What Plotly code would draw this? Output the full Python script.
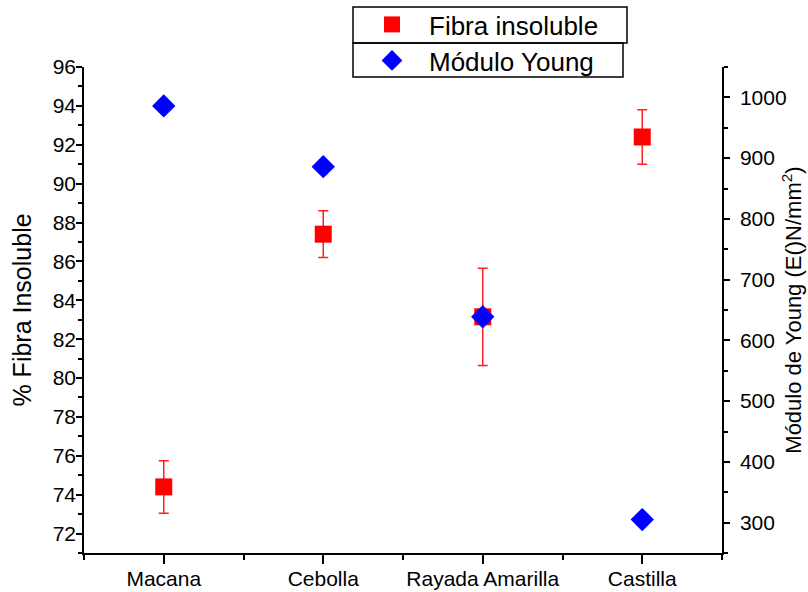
import plotly.graph_objects as go

# Variedades
categorias = ["Macana", "Cebolla", "Rayada Amarilla", "Castilla"]

# % fibra insoluble y su desviación
fibra = [74.4, 87.4, 83.15, 92.4]
fibra_err = [1.35, 1.2, 2.5, 1.4]

# Módulo de Young (N/mm2)
young = [986, 886, 639, 305]

x_pos = list(range(1, len(categorias) + 1))

FONT = "Arial, Liberation Sans, sans-serif"

fig = go.Figure()

fig.add_trace(go.Scatter(
    x=x_pos, y=fibra, name="Fibra insoluble", mode="markers",
    marker=dict(symbol="square", size=17, color="#ff0000",
                line=dict(width=0)),
    error_y=dict(type="data", array=fibra_err, visible=True,
                 color="#ff2020", thickness=1.5, width=5),
    legend="legend",
))

fig.add_trace(go.Scatter(
    x=x_pos, y=young, name="Módulo Young", mode="markers", yaxis="y2",
    marker=dict(symbol="diamond", size=18, color="#0000ff",
                line=dict(width=0)),
    legend="legend2",
))

axis_common = dict(
    showline=True, linecolor="black", linewidth=1.5,
    ticks="outside", tickcolor="black", tickwidth=1.5,
    showgrid=False, zeroline=False, automargin=False,
    tickfont=dict(family=FONT, size=21, color="black"),
)

fig.update_layout(
    width=808, height=592,
    margin=dict(l=84, r=86, t=67, b=39, autoexpand=False),
    paper_bgcolor="white", plot_bgcolor="white",
    showlegend=True,
    xaxis=dict(
        range=[0.5, 4.5], tickmode="array", tickvals=x_pos, ticktext=categorias,
        ticklen=9, ticklabelstandoff=-3,
        minor=dict(tickmode="linear", tick0=0.5, dtick=1, ticklen=5,
                   tickcolor="black", tickwidth=1.5, ticks="outside"),
        **axis_common,
    ),
    yaxis=dict(
        range=[71, 96], tick0=0, dtick=2, ticklen=6, ticklabelstandoff=-4,
        minor=dict(tick0=0, dtick=1, ticklen=4, tickcolor="black",
                   tickwidth=1.5, ticks="outside"),
        title=dict(text="% Fibra Insoluble",
                   font=dict(family=FONT, size=25, color="black"), standoff=14),
        **axis_common,
    ),
    yaxis2=dict(
        overlaying="y", side="right", anchor="x",
        range=[250, 1050], tick0=0, dtick=100, ticklen=6, ticklabelstandoff=6,
        minor=dict(tick0=0, dtick=50, ticklen=4, tickcolor="black",
                   tickwidth=1.5, ticks="outside"),
        title=dict(text="Módulo de Young (E()N/mm<sup>2</sup>)",
                   font=dict(family=FONT, size=22, color="black"), standoff=0),
        **axis_common,
    ),
    legend=dict(
        x=(355 - 84) / 638, y=(553 - 1) / 486, xanchor="left", yanchor="top",
        bgcolor="rgba(0,0,0,0)", borderwidth=0, itemwidth=64,
        font=dict(family=FONT, size=26, color="black"),
    ),
    legend2=dict(
        x=(355 - 84) / 638, y=(553 - 37) / 486, xanchor="left", yanchor="top",
        bgcolor="rgba(0,0,0,0)", borderwidth=0, itemwidth=64,
        font=dict(family=FONT, size=26, color="black"),
    ),
    shapes=[
        dict(type="rect", xref="paper", yref="paper",
             x0=(353 - 84) / 638, x1=(627 - 84) / 638,
             y0=(553 - 43) / 486, y1=(553 - 7) / 486,
             line=dict(color="black", width=1.5), layer="above"),
        dict(type="rect", xref="paper", yref="paper",
             x0=(353 - 84) / 638, x1=(623 - 84) / 638,
             y0=(553 - 77) / 486, y1=(553 - 43) / 486,
             line=dict(color="black", width=1.5), layer="above"),
    ],
)

fig.write_html("out.html")
